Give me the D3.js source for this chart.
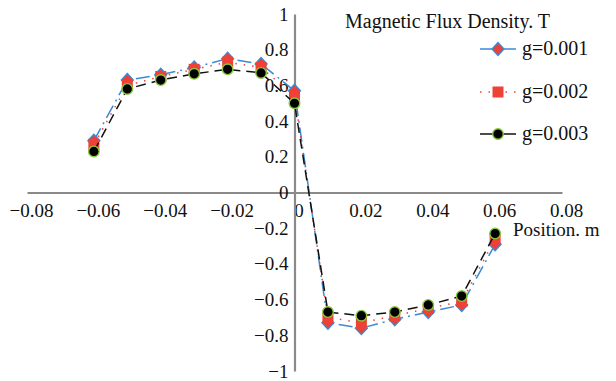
<!DOCTYPE html>
<html>
<head>
<meta charset="utf-8">
<script src="https://cdn.jsdelivr.net/npm/d3@7/dist/d3.min.js"></script>
<style>
  body { margin: 0; background: #fff; }
  svg text { font-family: "Liberation Serif", "DejaVu Serif", serif !important; fill: #111; }
</style>
</head>
<body>
<div id="chart"></div>
<script>
var positions = [-0.06, -0.05, -0.04, -0.03, -0.02, -0.01, 0, 0.01, 0.02, 0.03, 0.04, 0.05, 0.06];
var g001 = [0.29, 0.63, 0.66, 0.70, 0.75, 0.72, 0.57, -0.73, -0.76, -0.71, -0.67, -0.63, -0.29];
var g002 = [0.27, 0.60, 0.65, 0.69, 0.73, 0.70, 0.54, -0.70, -0.73, -0.69, -0.65, -0.61, -0.26];
var g003 = [0.23, 0.58, 0.63, 0.665, 0.69, 0.67, 0.50, -0.67, -0.69, -0.67, -0.63, -0.58, -0.23];
var seriesNames = ["g=0.001", "g=0.002", "g=0.003"];
var xTicks = [-0.08, -0.06, -0.04, -0.02, 0, 0.02, 0.04, 0.06, 0.08];
var yTicks = [-1, -0.8, -0.6, -0.4, -0.2, 0, 0.2, 0.4, 0.6, 0.8, 1];

var width = 616, height = 381;
var fontSize = 19;

var svg = d3.select("#chart").append("svg")
  .attr("width", width)
  .attr("height", height);

var x = d3.scaleLinear().domain([-0.08, 0.08]).range([27, 562]);
var y = d3.scaleLinear().domain([-1, 1]).range([371, 14]);
var fmt = d3.format("~g");

// x axis through y=0
var xAxis = svg.append("g")
  .attr("transform", "translate(0," + y(0) + ")")
  .call(d3.axisBottom(x).tickValues(xTicks).tickFormat(fmt).tickSize(0).tickPadding(11))
  .attr("font-family", "Liberation Serif")
  .attr("font-size", fontSize);
xAxis.selectAll("text").attr("dx", 4);

// y axis through x=0
var yAxis = svg.append("g")
  .attr("transform", "translate(" + x(0) + ",0)")
  .call(d3.axisLeft(y).tickValues(yTicks).tickFormat(fmt).tickSize(0).tickPadding(6))
  .attr("font-family", "Liberation Serif")
  .attr("font-size", fontSize);

svg.selectAll(".domain").attr("stroke", "#8a8a8a").attr("stroke-width", 2.2);

svg.append("text")
  .attr("x", 513).attr("y", 236)
  .style("font-size", fontSize + "px")
  .text("Position. m");

var series = [
  {name: seriesNames[0], values: g001, color: "#3a8ad6", dash: "14,5,2,5", marker: "diamond"},
  {name: seriesNames[1], values: g002, color: "#ef4136", dash: "1.5,7", marker: "square"},
  {name: seriesNames[2], values: g003, color: "#111", dash: "10,6", marker: "circle"}
];

var line = d3.line()
  .x(function(d, i){ return x(positions[i]); })
  .y(function(d){ return y(d); });

function drawMarker(sel, kind) {
  if (kind == "diamond") {
    sel.append("path")
      .attr("d", "M0,-6.5L6,0L0,6.5L-6,0Z")
      .attr("fill", "#e8413a")
      .attr("stroke", "#3a8ad6")
      .attr("stroke-width", 1.3);
  } else if (kind == "square") {
    sel.append("rect")
      .attr("x", -5.5).attr("y", -5.5)
      .attr("width", 11).attr("height", 11)
      .attr("fill", "#ef4136");
  } else {
    sel.append("circle")
      .attr("r", 5.3)
      .attr("fill", "#000")
      .attr("stroke", "#8cc63e")
      .attr("stroke-width", 1.4);
  }
}

series.forEach(function(s){
  svg.append("path")
    .datum(s.values)
    .attr("fill", "none")
    .attr("stroke", s.color)
    .attr("stroke-width", 1.5)
    .attr("stroke-dasharray", s.dash)
    .attr("d", line);

  svg.append("g").selectAll("g")
    .data(s.values)
    .enter()
    .append("g")
    .attr("transform", function(d, i){ return "translate(" + x(positions[i]) + "," + y(d) + ")"; })
    .each(function(){ drawMarker(d3.select(this), s.marker); });
});

// legend
svg.append("text")
  .attr("x", 345).attr("y", 28)
  .style("font-size", "20px")
  .text("Magnetic Flux Density. T");

var legendY = [49, 92, 134];
var legend = svg.selectAll(".legend")
  .data(series)
  .enter()
  .append("g")
  .attr("class", "legend")
  .attr("transform", function(d, i){ return "translate(0," + legendY[i] + ")"; });

legend.append("line")
  .attr("x1", 480).attr("x2", 516)
  .attr("y1", 0).attr("y2", 0)
  .attr("stroke", function(d){ return d.color; })
  .attr("stroke-width", 1.5)
  .attr("stroke-dasharray", function(d){ return d.marker == "square" ? "1.5,7" : null; });

legend.append("g")
  .attr("transform", "translate(498,0)")
  .each(function(d){ drawMarker(d3.select(this), d.marker); });

legend.append("text")
  .attr("x", 522).attr("y", 6)
  .style("font-size", "20px")
  .text(function(d){ return d.name; });
</script>
</body>
</html>
